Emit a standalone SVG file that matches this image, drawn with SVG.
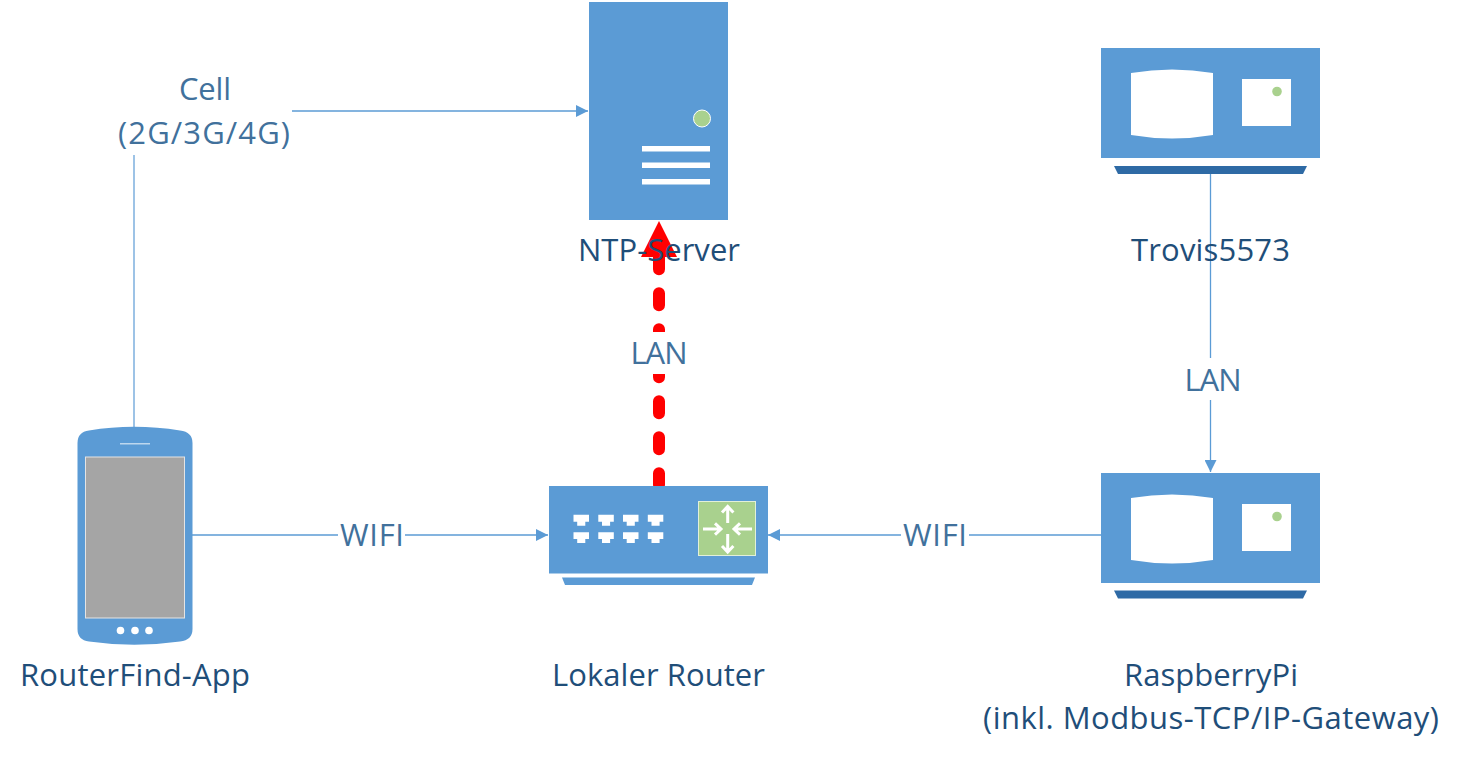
<svg xmlns="http://www.w3.org/2000/svg" width="1459" height="757" viewBox="0 0 1459 757">
<style>
.b{fill:#5b9bd5}.w{fill:#fff}.g{fill:#a9d18e}.d{fill:#2e6aa5}
.t{font-family:"Open Sans","Noto Sans",sans-serif;font-size:31px;text-anchor:middle;fill:#1f4e79}
.l{fill:#41719c}
.c{fill:none;stroke:#5b9bd5;stroke-width:1.3}
.c2{fill:none;stroke:#9dc3e6;stroke-width:2}
</style>
<defs>
<marker id="a" markerUnits="userSpaceOnUse" markerWidth="14" markerHeight="12" refX="12" refY="6" orient="auto"><path d="M0 0L12 6L0 12Z" fill="#5b9bd5"/></marker>
<g id="box"><rect x="0" y="0" width="219" height="110" class="b"/><path d="M30 25Q71 18 112 25V87Q71 94 30 87Z" class="w"/><rect x="141" y="31" width="49" height="47" class="w"/><circle cx="176" cy="43.500" r="4.800" class="g"/></g>
</defs>
<g id="connectors">
<path class="c2" d="M134 428V155"/>
<path class="c" d="M292 111H588" marker-end="url(#a)"/>
<path class="c" d="M192 535H548" marker-end="url(#a)"/>
<path class="c" d="M1101 535H768" marker-end="url(#a)"/>
<path class="c" d="M1210.500 174V472" marker-end="url(#a)"/>
<path d="M659 485V246" fill="none" stroke="#f00" stroke-width="12" stroke-linecap="round" stroke-dasharray="12 24" stroke-dashoffset="0.300"/>
<path d="M659 221L677 257H641Z" fill="#f00"/>
</g>
<g id="ntp-server">
<rect x="589" y="2" width="139" height="218" class="b"/>
<circle cx="702" cy="118.500" r="8.500" class="g" stroke="#fff" stroke-width="1"/>
<rect x="642" y="146" width="68" height="5.500" class="w"/><rect x="642" y="162.500" width="68" height="5.500" class="w"/><rect x="642" y="179" width="68" height="5.500" class="w"/>
<text class="t" x="659" y="261" textLength="162">NTP-Server</text>
</g>
<g id="trovis">
<use href="#box" x="1101" y="48"/>
<path d="M1114 166H1307L1303 174H1118Z" class="d"/>
<text class="t" x="1210.500" y="261" textLength="159">Trovis5573</text>
</g>
<g id="phone">
<path d="M77.500 443Q77.500 432 89 430.500Q134 423 180 430.500Q192.500 432 192.500 443V629Q192.500 640 180 641.500Q134 648 89 641.500Q77.500 640 77.500 629Z" class="b"/>
<rect x="120" y="443" width="30" height="1.500" fill="#bdd7ee"/>
<rect x="85.500" y="457" width="99" height="161" fill="#a5a5a5" stroke="#e4e4e4" stroke-width="1"/>
<circle cx="120.500" cy="630.500" r="3.800" class="w"/><circle cx="135" cy="630.500" r="3.800" class="w"/><circle cx="149" cy="630.500" r="3.800" class="w"/>
<text class="t" x="135" y="686" textLength="230">RouterFind-App</text>
</g>
<g id="router">
<rect x="549" y="486" width="219" height="87.500" class="b"/>
<path d="M562 577.500H755L752 585H565Z" class="b"/>
<g class="w">
<path d="M573.500 514.700H589V521.700H585.300V525.700H577.200V521.700H573.500Z"/>
<path d="M598.300 514.700H613.800V521.700H610.100V525.700H602V521.700H598.300Z"/>
<path d="M623 514.700H638.500V521.700H634.800V525.700H626.700V521.700H623Z"/>
<path d="M647.800 514.700H663.300V521.700H659.600V525.700H651.500V521.700H647.800Z"/>
<path d="M573.500 532.300H589V539H585.300V543H577.200V539H573.500Z"/>
<path d="M598.300 532.300H613.800V539H610.100V543H602V539H598.300Z"/>
<path d="M623 532.300H638.500V539H634.800V543H626.700V539H623Z"/>
<path d="M647.800 532.300H663.300V539H659.600V543H651.500V539H647.800Z"/>
</g>
<rect x="698.500" y="501.500" width="57" height="54" class="g" stroke="#e2f0d9" stroke-width="1"/>
<path d="M727.700 523V506.500M722 512.500L727.700 506.500L733.400 512.500M727.700 534V552M722 546L727.700 552L733.400 546M703 529H721M715 523.300L721 529L715 534.700M752 529H734M740 523.300L734 529L740 534.700" fill="none" stroke="#fff" stroke-width="3"/>
<text class="t" x="658.500" y="686" textLength="213">Lokaler Router</text>
</g>
<g id="raspberrypi">
<use href="#box" x="1101" y="473"/>
<path d="M1114 590.500H1307L1303 598.500H1118Z" class="d"/>
<text class="t" x="1211" y="686" textLength="174">RaspberryPi</text>
<text class="t" x="1211" y="729" textLength="456">(inkl. Modbus-TCP/IP-Gateway)</text>
</g>
<g id="labels">
<rect x="112" y="70" width="180" height="85" class="w"/>
<text class="t l" x="205" y="100" textLength="52">Cell</text>
<text class="t l" x="204" y="144" textLength="172">(2G/3G/4G)</text>
<rect x="623" y="332" width="72" height="42" class="w"/>
<text class="t l" x="659" y="364" textLength="57">LAN</text>
<rect x="1177" y="358" width="70" height="42" class="w"/>
<text class="t l" x="1213" y="391" textLength="57">LAN</text>
<rect x="338" y="516" width="67" height="38" class="w"/>
<text class="t l" x="372" y="546" textLength="64">WIFI</text>
<rect x="901" y="516" width="68" height="38" class="w"/>
<text class="t l" x="935" y="546" textLength="64">WIFI</text>
</g>
</svg>
